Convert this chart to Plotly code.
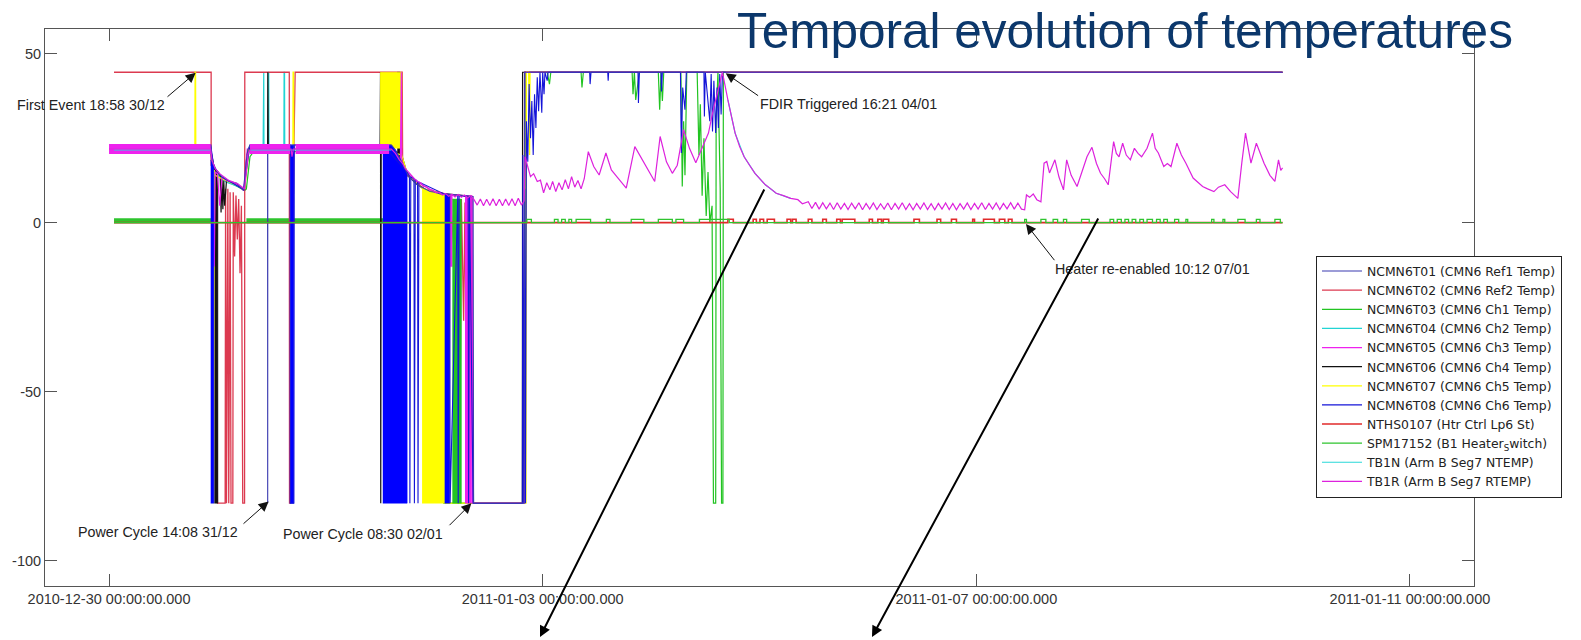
import pandas as pd
import plotly.graph_objects as go

BASE = pd.Timestamp("2010-12-30 00:00:00")

# ---------------- data: hours since 2010-12-30 00:00 / values (degC or state) ----------------
T01_H = [1.1, 22.5, 22.7, 23.9, 25.3, 26.8, 28.3, 29.4, 29.8, 30.2, 30.7, 31.2, 35.1, 35.12, 35.14, 62.5, 63.4,
         64.3, 65.2, 66.0, 66.7, 67.8, 68.9, 70.0, 71.1, 72.2, 73.3, 74.7, 76.2, 78.1, 80.0, 80.6, 80.7, 91.9, 92.0, 259.8]
T01_V = [23.0, 23.0, 18.6, 15.1, 13.2, 12.2, 11.7, 10.2, 9.5, 16.0, 21.5, 23.0, 23.0, -83, 23.0, 23.0, 21.5,
         19.3, 16.6, 14.6, 13.2, 11.7, 10.7, 10.0, 9.2, 9.0, 8.5, 8.5, 8.2, 8.0, 7.7, 7.7, -83, -83, 44.5, 44.5]

T02_H = [1.1, 22.6, 22.6, 23.5, 24.0, 25.7, 25.8, 26.0, 26.3, 26.5, 26.8, 27.0, 27.4, 27.5, 27.8, 28.1, 28.4, 28.7,
         29.0, 29.3, 29.6, 30.0, 30.05, 39.9, 39.95, 40.1, 40.9, 41.2, 64.9, 65.0, 66.0, 70.0, 75.0, 75.2, 75.5, 77.0,
         77.3, 77.6, 78.0, 78.5, 78.8, 79.3, 79.6, 80.2, 80.5, 91.9, 92.0, 259.8]
T02_V = [44.5, 44.5, 17, 15, -83, -83, 10, -83, 10, -83, 9, -83, -83, 9, -10, 8, -5, 7,
         -15, 5, -83, -83, 44.5, 44.5, -83, -83, 20, 44.5, 44.5, 16, 14, 9.8, 8.4, -83, 8.2, -20,
         5, -83, 7, -29, 6, -83, 7, -10, -83, -83, 44.5, 44.5]

T03_H = [1.1, 22.5, 23.0, 25.0, 28.0, 30.0, 30.4, 31.2, 32.0, 62.5, 64.0, 66.0, 70.0, 74.0, 74.1, 76.0, 78.0, 80.6,
         91.9, 92.0, 92.2, 97.0, 97.5, 97.8, 104.5, 104.7, 105.0, 115.8, 116.0, 116.3, 116.6, 117.0, 117.4, 121.6,
         121.9, 122.2, 122.5, 122.8, 126.6, 126.9, 127.2, 127.5, 127.9, 130.2, 130.6, 130.9, 131.3, 131.7, 132.2,
         132.6, 133.0, 133.5, 133.8, 134.3, 134.4, 134.8, 135.3, 135.6, 135.9, 136.0, 259.8]
T03_V = [21.0, 21.0, 17, 13, 11, 9.5, 10, 19.5, 21.0, 21.0, 19, 14, 9.5, 8.2, -83, -83, -83, -83,
         -83, -83, 44.5, 44.5, 41, 44.5, 44.5, 40, 44.5, 44.5, 38, 44.5, 36.3, 40, 44.5, 44.5,
         33.4, 44.5, 36, 44.5, 44.5, 10.7, 30, 14, 44.5, 44.5, 20, 35, 8, 25, 2,
         15, 0, 5, -83, -83, 30, 44.5, 10, -83, -83, 44.5, 44.5]

T04_H = [1.1, 22.5, 22.8, 24.0, 26.0, 28.0, 30.0, 30.5, 31.0, 34.1, 34.15, 34.25, 34.3, 35.2, 35.25, 35.35, 35.4,
         38.7, 38.75, 38.85, 38.9, 62.5, 64.0, 66.0, 70.0, 74.4, 74.5, 74.7, 80.0, 80.7, 91.9, 92.0, 259.8]
T04_V = [21.8, 21.8, 17, 14, 12, 11, 10, 20, 21.8, 21.8, 44.5, 44.5, 21.8, 21.8, 44.5, 44.5, 21.8,
         21.8, 44.5, 44.5, 21.8, 21.8, 19, 14, 9.5, 8.4, -60, 8.3, 7.7, -83, -83, 44.5, 44.5]

T05_H = [0.0, 22.5, 22.8, 23.2, 23.3, 23.5, 24.0, 24.5, 25.0, 26.0, 27.0, 28.0, 29.0, 29.8, 30.2, 30.6, 62.5, 63.4,
         64.5, 64.55, 64.7, 64.8, 66.0, 68.0, 70.0, 72.0, 74.0, 75.5, 80.4, 80.5, 91.9, 92.0, 259.8]
T05_V = [21.8, 21.8, 17, -13, -13, 15, 14.5, 5, 13.5, 12.5, 12, 11.5, 10.5, 9.5, 16, 21.8, 21.8, 20.5,
         18.5, 44.5, 44.5, 17.5, 14.8, 12.2, 10.6, 9.2, 8.6, 8.3, 7.8, -83, -83, 44.5, 44.5]
# dense noisy band of the channel readings around 21.8 degC
T05_BAND_H = [0.0, 22.5, 22.55, 31.2, 40.1, 40.15, 41.3, 62.0]
T05_BAND_V = [21.8, 21.8, None, 21.8, 21.8, None, 21.8, 21.8]

T06_H = [1.1, 22.5, 23.3, 24.1, 24.6, 24.8, 25.0, 25.2, 25.4, 25.6, 26.0, 28.0, 30.0, 30.5, 31.0, 35.1, 35.15,
         35.25, 60.0, 60.1, 60.15, 60.25, 63.0, 64.8, 66.0, 68.0, 70.0, 74.0, 80.3, 80.5, 91.5, 91.55, 259.8]
T06_V = [21.8, 21.8, 16, 15, 14, 3, 13, 4, 12.5, 5, 12.5, 11.5, 9.8, 20, 21.8, 21.8, 44.5,
         21.8, 21.8, 44.5, -83, 21.8, 21.5, 20, 14.5, 11.5, 9.8, 8.6, 7.8, -83, -83, 44.5, 44.5]

T07_H = [1.1, 19.0, 19.05, 19.15, 19.2, 22.5, 22.9, 23.1, 23.3, 23.5, 25.0, 30.0, 31.0, 40.7, 40.75, 40.85, 40.9,
         60.0, 64.8, 66.0, 69.3, 74.3, 74.4, 91.9, 92.3, 92.4, 92.9, 93.1, 93.2]
T07_V = [21.8, 21.8, 44.5, 44.5, 21.8, 21.8, 17, -83, 15.6, 14, 13, 10, 21.8, 21.8, 44.5, 44.5, 21.8,
         21.8, 20, 14.5, 10.2, 8.4, -83, -83, -83, 44.5, 44.5, 20, 44.5]

T08_H = [1.1, 22.5, 23.2, 25.0, 29.8, 30.4, 31.2, 40.1, 40.1, 40.9, 41.0, 60.6, 66.0, 66.5, 66.6, 66.8, 67.5, 67.6,
         67.8, 68.3, 68.4, 68.6, 74.3, 75.4, 75.5, 77.2, 77.3, 77.5, 79.5, 79.6, 79.8, 80.6, 91.5, 91.6, 91.8, 92.0,
         92.2, 92.4, 92.7, 93.0, 93.3, 93.6, 93.9, 94.2, 94.5, 94.8, 95.1, 95.4, 95.8, 96.0, 96.3, 96.5, 97.0, 97.2,
         106.4, 106.5, 106.7, 110.4, 110.5, 110.6, 117.1, 117.2, 117.4, 122.2, 122.3, 122.5, 126.5, 126.7, 127.0,
         127.5, 127.8, 131.7, 131.8, 132.0, 133.0, 133.3, 133.6, 133.9, 134.3, 134.6, 134.9, 135.2, 135.5, 135.8, 136.5]
T08_V = [23.0, 23.0, 16.5, 13.5, 9.8, 16, 23.0, 23.0, -83, -83, 23.0, 23.0, 15, 13.8, -83, 13.5, 13, -83,
         12.8, 12.2, -83, 12, 8.4, 8.3, -83, 8.0, -83, 7.9, 7.8, -83, 7.7, -83, -83, 20, -83, 10,
         -83, 30, 18, 41, 25, 36, 20, 38, 28, 43, 33, 44.5, 32.5, 44.5, 38, 44.5, 42, 44.5,
         44.5, 41, 44.5, 44.5, 42, 44.5, 44.5, 35.4, 44.5, 44.5, 38.8, 44.5, 44.5, 20.6, 40,
         33.4, 44.5, 44.5, 31.4, 44.5, 30, 44, 27, 42, 26.5, 40, 28, 44, 32, 44.5, 44.5]

# densely oscillating stretches (hours, upper values, lower value)
T03_DENSE = [([76.0, 78.0], [7.0, 7.0], -83)]
T05_DENSE = [([75.5, 76.0], [8.3, 8.2], -13), ([78.8, 80.3], [7.9, 7.8], -83)]
T06_DENSE = [([23.3, 24.1], [16, 15], -83), ([63.8, 64.4], [44.5, 44.5], 17)]
T07_DENSE = [([60.0, 64.8], [44.5, 44.5], 22.0), ([69.3, 72.0, 74.3], [10.2, 9.0, 8.4], -83)]
T08_DENSE = [([22.5, 23.2], [18.6, 16.5], -83), ([40.1, 40.9], [23.0, 23.0], -83),
             ([60.6, 62.5, 63.4, 65.2, 66.0], [23.0, 23.0, 21.5, 16.6, 15.0], -83), ([74.3, 75.4], [8.4, 8.3], -83)]

NTHS_PULSES = [(137.0, 138.2), (142.6, 143.3), (144.1, 144.9), (145.7, 147.3), (150.1, 150.9), (151.3, 152.1),
               (154.8, 155.6), (158.0, 158.8), (161.1, 161.9), (162.3, 165.1), (168.3, 169.0), (170.2, 171.0),
               (171.4, 172.6), (178.2, 179.4), (183.3, 184.1), (186.5, 187.6), (191.2, 191.6), (193.6, 196.0),
               (197.1, 198.3), (199.1, 199.9)]
SPM_PULSES = [(92.5, 93.5), (98.6, 99.4), (100.2, 101.0), (101.8, 102.4), (103.4, 106.6), (110.1, 110.9),
              (115.6, 118.4), (121.6, 124.7), (125.5, 127.2), (130.7, 137.3), (202.7, 203.1), (206.3, 207.4),
              (209.0, 210.0), (211.3, 212.0), (215.3, 217.0), (221.6, 222.4), (223.2, 224.1), (224.9, 225.7),
              (226.5, 227.3), (228.2, 229.0), (229.8, 231.0), (231.9, 232.7), (233.5, 234.3), (235.9, 236.8),
              (238.4, 238.8), (244.1, 244.6), (246.6, 247.0), (249.9, 251.5), (254.0, 254.8), (258.1, 259.3)]
SPM_BAND_H = [1.1, 22.6, 22.65, 30.4, 62.5]
SPM_BAND_V = [0.6, 0.6, None, 0.6, 0.6]
STATE_START, STATE_END = 1.1, 259.8

TB1N_H = [1.1, 22.5, 22.55, 31.3, 62.5, 62.55, 137.0, 138.6, 140.6, 143.0, 145.3, 147.7, 150.9]
TB1N_V = [21.5, 21.5, None, 21.5, 21.5, None, 36.3, 26.5, 19.5, 14.6, 11.2, 8.7, 7.2]

TB1R_SAMPLES = [
    (0.0, 21.8), (22.5, 21.8), (22.8, 18.5), (23.5, 16), (24.5, 14.5), (25.5, 13.5), (26.5, 12.5), (27.5, 12),
    (28.5, 11.5), (29.5, 10.5), (30.0, 10), (30.4, 15), (30.8, 20.5), (31.3, 21.8), (40.3, 21.8), (40.5, 19.5),
    (40.8, 21.8), (62.5, 21.8), (63.4, 20.5), (64.3, 18.5), (65.0, 17.5), (65.6, 16), (66.3, 14.8), (67.0, 13.9),
    (67.6, 13.0), (68.3, 12.2), (69.0, 11.8), (69.6, 10.8), (70.3, 10.6), (71.0, 9.6), (71.7, 9.6), (72.4, 8.8),
    (73.1, 9.0), (73.8, 8.2), (74.5, 8.6), (75.2, 7.8), (75.9, 8.4), (76.6, 7.6), (77.3, 8.3), (78.0, 7.5),
    (78.7, 8.2), (79.4, 7.3), (80.1, 8.0), (80.8, 6.8), (81.5, 5.2), (82.2, 7.0), (82.9, 5.0), (83.6, 6.9),
    (84.3, 5.1), (85.0, 7.1), (85.7, 5.0), (86.4, 6.9), (87.1, 5.0), (87.8, 7.0), (88.5, 5.1), (89.2, 7.1),
    (89.9, 5.0), (90.6, 7.2), (91.3, 5.2), (91.9, 6.5), (92.1, 19.5), (92.5, 17.7), (93.3, 13.6), (94.0, 14.5),
    (94.8, 12.2), (95.5, 12.6), (96.2, 8.8), (96.9, 11.8), (97.6, 9.7), (98.2, 12.2), (98.9, 9.2), (99.6, 11.8),
    (100.3, 9.7), (101.0, 12.7), (101.7, 10.0), (102.4, 13.6), (103.1, 10.5), (103.8, 12.5), (104.5, 10.0),
    (105.2, 13.0), (106.1, 21.0), (107.3, 16.6), (108.5, 14.1), (110.0, 20.6), (111.2, 15.6), (112.5, 13.5),
    (113.5, 12.0), (114.5, 10.2), (116.4, 22.5), (118.4, 17.7), (119.5, 15.0), (120.8, 12.2), (122.0, 25.5),
    (123.4, 18.0), (124.7, 14.6), (125.8, 17.0), (127.2, 27.5), (128.5, 22.0), (129.9, 17.7), (131.3, 22.0),
    (132.7, 26.5), (133.7, 33.0), (134.6, 38.3), (135.8, 44.5), (137.0, 36.3), (138.6, 26.5), (139.6, 22.5),
    (140.6, 19.5), (141.8, 17.0), (143.0, 14.6), (144.2, 12.8), (145.3, 11.2), (146.5, 10.0), (147.7, 8.7),
    (149.3, 8.0), (150.9, 7.2), (152.5, 6.8), (153.5, 5.6), (154.8, 6.2),
    (155.6, 4.2), (156.4, 6.0), (157.2, 4.0), (158.0, 5.9), (158.8, 4.1), (159.6, 5.8), (160.4, 3.9), (161.2, 5.9),
    (162.0, 4.0), (162.8, 5.7), (163.6, 3.9), (164.4, 5.8), (165.2, 4.1), (166.0, 5.9), (166.8, 3.8), (167.6, 5.7),
    (168.4, 4.0), (169.2, 5.8), (170.0, 3.9), (170.8, 5.6), (171.6, 4.0), (172.4, 5.8), (173.2, 3.8), (174.0, 5.7),
    (174.8, 4.0), (175.6, 5.9), (176.4, 3.9), (177.2, 5.6), (178.0, 3.8), (178.8, 5.7), (179.6, 4.0), (180.4, 5.8),
    (181.2, 3.9), (182.0, 5.6), (182.8, 3.8), (183.6, 5.7), (184.4, 4.0), (185.2, 5.8), (186.0, 3.9), (186.8, 5.7),
    (187.6, 3.8), (188.4, 5.6), (189.2, 4.0), (190.0, 5.8), (190.8, 3.9), (191.6, 5.7), (192.4, 4.0), (193.2, 5.9),
    (194.0, 3.9), (194.8, 5.7), (195.6, 4.0), (196.4, 5.8), (197.2, 3.9), (198.0, 5.7), (198.8, 4.1), (199.6, 5.9),
    (200.4, 4.0), (201.2, 5.8), (202.0, 4.0), (202.7, 3.8),
    (203.1, 8.2), (203.8, 7.5), (204.6, 8.5), (205.4, 6.8), (206.3, 6.2), (207.0, 17.6), (207.6, 18.1),
    (208.2, 14.7), (209.4, 18.6), (210.3, 13.5), (211.3, 9.7), (212.0, 18.6), (213.0, 14.0), (214.3, 10.7),
    (215.7, 16.6), (216.5, 19.5), (217.6, 22.3), (218.6, 17.5), (219.5, 14.6), (220.4, 13.0), (221.2, 11.2),
    (222.4, 24.0), (223.0, 20.5), (223.6, 19.5), (224.4, 23.5), (225.2, 20.0), (226.1, 18.6), (227.0, 22.0),
    (227.8, 20.5), (228.6, 19.5), (229.8, 22.0), (231.0, 26.5), (231.6, 22.0), (232.3, 20.6), (233.5, 16.6),
    (234.3, 17.5), (235.1, 16.6), (236.4, 23.5), (237.4, 20.0), (238.4, 17.6), (240.0, 13.2), (241.0, 12.0),
    (242.1, 10.7), (243.2, 10.0), (244.6, 9.2), (245.6, 10.5), (247.0, 11.2), (248.3, 9.2), (249.9, 7.2),
    (250.8, 18.0), (251.6, 26.5), (252.8, 17.6), (254.0, 23.5), (255.0, 20.0), (255.7, 17.6), (257.0, 14.0),
    (258.1, 12.2), (258.9, 18.6), (259.4, 15.5), (259.8, 16.2)]

NAMES = ["NCMN6T01 (CMN6 Ref1 Temp)", "NCMN6T02 (CMN6 Ref2 Temp)", "NCMN6T03 (CMN6 Ch1 Temp)",
         "NCMN6T04 (CMN6 Ch2 Temp)", "NCMN6T05 (CMN6 Ch3 Temp)", "NCMN6T06 (CMN6 Ch4 Temp)",
         "NCMN6T07 (CMN6 Ch5 Temp)", "NCMN6T08 (CMN6 Ch6 Temp)", "NTHS0107 (Htr Ctrl Lp6 St)",
         "SPM17152 (B1 Heater<sub>S</sub>witch)", "TB1N (Arm B Seg7 NTEMP)", "TB1R (Arm B Seg7 RTEMP)"]

X_TICKS = ["2010-12-30", "2011-01-03", "2011-01-07", "2011-01-11"]
Y_TICKS = [-100, -50, 0, 50]
Y_TICKTEXT = ["-100", "-50", "0", "50"]

for a, b in [(T01_H, T01_V), (T02_H, T02_V), (T03_H, T03_V), (T04_H, T04_V), (T05_H, T05_V),
             (T06_H, T06_V), (T07_H, T07_V), (T08_H, T08_V), (TB1N_H, TB1N_V)]:
    assert len(a) == len(b), (len(a), len(b))

# ---------------- helpers ----------------
FONT = "Liberation Sans, Arial, sans-serif"
C = dict(t01="#3a3ab0", t02="#dc3a50", t03="#22c422", t04="#22d4d4", t05="#ee22ee", t06="#111111",
         t07="#ffff00", t08="#1414d8", t08f="#0000ff", nths="#e02a2a", spm="#2ec42e", tb1n="#2ad8d8", tb1r="#dd22dd")


def times(hours):
    return [None if h is None else BASE + pd.Timedelta(hours=h) for h in hours]


def line(name, hours, vals, color, width, rank, show=True, group=None, shape="linear"):
    return go.Scatter(x=times(hours), y=vals, mode="lines", name=name, legendgroup=group or name,
                      showlegend=show, legendrank=rank, hoverinfo="skip", connectgaps=False,
                      line=dict(color=color, width=width, shape=shape))


def dense(blocks, color, group):
    xs, ys = [], []
    for hrs, top, low in blocks:
        xs += hrs + hrs[::-1] + [None]
        ys += top + [low] * len(hrs) + [None]
    return go.Scatter(x=times(xs), y=ys, mode="lines", fill="toself", fillcolor=color, showlegend=False,
                      legendgroup=group, hoverinfo="skip", line=dict(color=color, width=0.5))


def steps(pulses):
    hs, vs = [STATE_START], [0]
    for a, b in pulses:
        hs += [a, b]
        vs += [1, 0]
    hs.append(STATE_END)
    vs.append(0)
    return hs, vs


NTHS_H, NTHS_V = steps(NTHS_PULSES)
SPM_H, SPM_V = steps(SPM_PULSES)
TB1R_H = [h for h, _ in TB1R_SAMPLES]
TB1R_V = [v for _, v in TB1R_SAMPLES]

fig = go.Figure()
fig.add_trace(line(NAMES[9], SPM_BAND_H, SPM_BAND_V, C["spm"], 5, 10, show=False))
fig.add_trace(line(NAMES[2], T03_H, T03_V, C["t03"], 1.2, 3))
fig.add_trace(line(NAMES[3], T04_H, T04_V, C["t04"], 1.2, 4))
fig.add_trace(line(NAMES[1], T02_H, T02_V, C["t02"], 1.3, 2))
fig.add_trace(dense(T06_DENSE, C["t06"], NAMES[5]))
fig.add_trace(line(NAMES[5], T06_H, T06_V, C["t06"], 1.2, 6))
fig.add_trace(dense(T07_DENSE, C["t07"], NAMES[6]))
fig.add_trace(line(NAMES[6], T07_H, T07_V, C["t07"], 1.3, 7))
fig.add_trace(dense(T05_DENSE, C["t05"], NAMES[4]))
fig.add_trace(line(NAMES[4], T05_H, T05_V, C["t05"], 1.2, 5))
fig.add_trace(dense(T03_DENSE, C["t03"], NAMES[2]))
fig.add_trace(dense(T08_DENSE, C["t08f"], NAMES[7]))
fig.add_trace(line(NAMES[7], T08_H, T08_V, C["t08"], 1.1, 8))
fig.add_trace(line(NAMES[0], T01_H, T01_V, C["t01"], 1.1, 1))
# dense magenta band drawn over the steady blue readings, leaving their top edge visible
fig.add_trace(line(NAMES[4], T05_BAND_H, T05_BAND_V, C["t05"], 10, 5, show=False))
fig.add_trace(line(NAMES[8], NTHS_H, NTHS_V, C["nths"], 1.6, 9, shape="hv"))
fig.add_trace(line(NAMES[9], SPM_H, SPM_V, C["spm"], 1.3, 10, shape="hv"))
fig.add_trace(line(NAMES[10], TB1N_H, TB1N_V, C["tb1n"], 1.2, 11))
fig.add_trace(line(NAMES[11], TB1R_H, TB1R_V, C["tb1r"], 1.2, 12))

# ---------------- layout ----------------
PL, PR, PT, PB = 45, 1474, 29, 586


def px(X):
    return (X - PL) / (PR - PL)


def py(Y):
    return (PB - Y) / (PB - PT)


ann = []
ann.append(dict(text="Temporal evolution of temperatures", x=px(735), y=py(30.5), xref="paper", yref="paper",
                xanchor="left", yanchor="middle", showarrow=False,
                font=dict(family=FONT, size=49.5, color="#0b376b")))
labels = [("First Event 18:58 30/12", 91.4, 105, 166, 98, 195.7, 72.7),
          ("Power Cycle 14:08 31/12", 158.4, 532.3, 242, 525, 268.6, 501.5),
          ("Power Cycle 08:30 02/01", 363.3, 534, 448, 526.7, 471.4, 503.3),
          ("FDIR Triggered 16:21 04/01", 848.9, 104, 759.6, 96.7, 725.7, 73.3),
          ("Heater re-enabled 10:12 07/01", 1152.3, 269, 1055.6, 261.7, 1026, 224)]
for txt, cx, cy, tx, ty, hx, hy in labels:
    ann.append(dict(text=txt, x=px(cx), y=py(cy), xref="paper", yref="paper", xanchor="center", yanchor="middle",
                    showarrow=False, font=dict(family=FONT, size=14.3, color="#222")))
    ann.append(dict(text="", x=px(hx), y=py(hy), xref="paper", yref="paper", ax=tx - hx, ay=ty - hy,
                    showarrow=True, arrowhead=2, arrowsize=2.0, arrowwidth=1, arrowcolor="#111",
                    standoff=0, startstandoff=0))
for tx, ty, hx, hy in [(765, 188, 540, 637), (1099, 217, 872, 637)]:
    ann.append(dict(text="", x=px(hx), y=py(hy), xref="paper", yref="paper", ax=tx - hx, ay=ty - hy,
                    showarrow=True, arrowhead=2, arrowsize=1.1, arrowwidth=2, arrowcolor="#000",
                    standoff=0, startstandoff=0))

axis_common = dict(showline=True, linecolor="#555", linewidth=1, mirror="ticks", ticks="inside", ticklen=12,
                   tickwidth=1, tickcolor="#555", showgrid=False, zeroline=False,
                   tickfont=dict(family=FONT, size=14.5, color="#333"))

fig.update_layout(
    width=1581, height=640, margin=dict(l=PL, r=1581 - PR, t=PT, b=640 - PB),
    paper_bgcolor="white", plot_bgcolor="white", showlegend=True,
    xaxis=dict(type="date", range=[BASE - pd.Timedelta(hours=14.18), BASE + pd.Timedelta(hours=302.18)],
               tickvals=X_TICKS, tickformat="%Y-%m-%d %H:%M:%S.%L", **axis_common),
    yaxis=dict(range=[-107.5, 57.3], tickvals=Y_TICKS, ticktext=Y_TICKTEXT, **axis_common),
    legend=dict(x=px(1316), y=py(255.5), xanchor="left", yanchor="top", bgcolor="white", bordercolor="#222",
                borderwidth=1, font=dict(family="DejaVu Sans, Liberation Sans, sans-serif", size=12.4, color="#222"),
                itemwidth=40, tracegroupgap=0, traceorder="normal"),
    annotations=ann,
)

fig.write_html("out.html", config={"displayModeBar": False},
               post_script="document.body.style.margin='0';")
